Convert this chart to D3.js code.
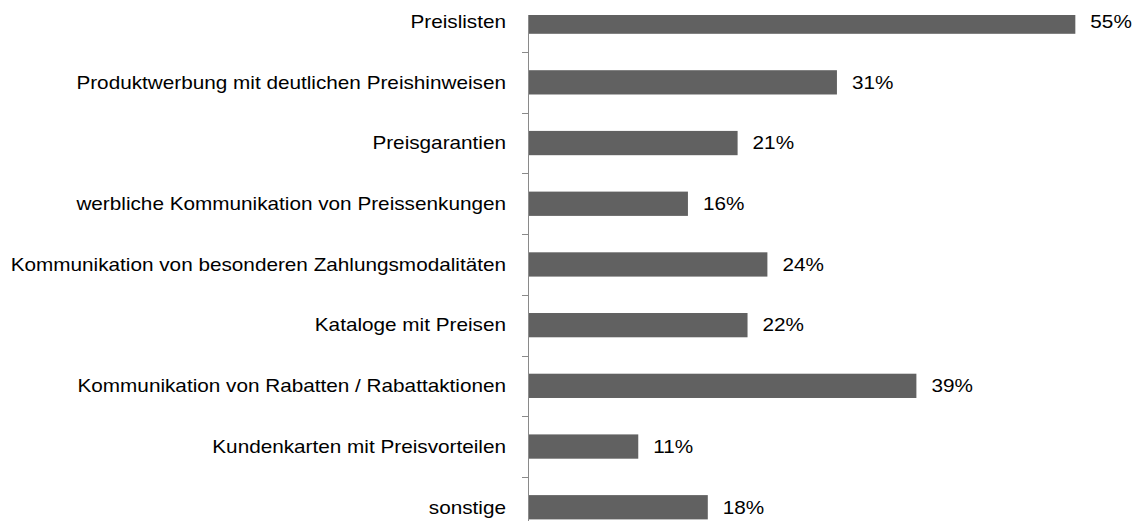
<!DOCTYPE html>
<html>
<head>
<meta charset="utf-8">
<script src="https://cdn.jsdelivr.net/npm/d3@7"></script>
<style>
  body { margin: 0; background: #fff; }
  text { font-family: "Liberation Sans", Arial, sans-serif; }
</style>
</head>
<body>
<div id="chart"></div>
<script>
// Chart data
const categories = [
  "Preislisten",
  "Produktwerbung mit deutlichen Preishinweisen",
  "Preisgarantien",
  "werbliche Kommunikation von Preissenkungen",
  "Kommunikation von besonderen Zahlungsmodalitäten",
  "Kataloge mit Preisen",
  "Kommunikation von Rabatten / Rabattaktionen",
  "Kundenkarten mit Preisvorteilen",
  "sonstige"
];
const values = [55, 31, 21, 16, 24, 22, 39, 11, 18];

const width = 1138;
const height = 521;
const axisX = 529;
const plotTop = 15;
// the source text is drawn wider than normal
const stretch = 1.185;
const fontSize = 17.5;

const svg = d3.select("#chart")
  .append("svg")
  .attr("width", width)
  .attr("height", height);

// X-Scale (percent)
const xScale = d3.scaleLinear()
  .domain([0, 60])
  .range([axisX, axisX + 596]);

// Y-Scale, the plot runs past the picture edges
const yScale = d3.scaleBand()
  .domain(categories)
  .range([-8.7, 537.6])
  .paddingInner(0.6)
  .paddingOuter(0.3);

const step = yScale.step();

svg.append("clipPath")
  .attr("id", "plot")
  .append("rect")
  .attr("x", 0)
  .attr("y", plotTop)
  .attr("width", width)
  .attr("height", height - plotTop);

// Draw bars
svg.append("g")
  .attr("clip-path", "url(#plot)")
  .selectAll("rect")
  .data(values)
  .enter()
  .append("rect")
  .attr("x", xScale(0))
  .attr("y", (d, i) => yScale(categories[i]))
  .attr("width", d => xScale(d) - xScale(0))
  .attr("height", yScale.bandwidth())
  .attr("fill", "#616161");

// Axis line
svg.append("line")
  .attr("x1", axisX - 0.5).attr("x2", axisX - 0.5)
  .attr("y1", plotTop).attr("y2", height)
  .attr("stroke", "#8a8a8a")
  .attr("stroke-width", 1);

// Tick marks between categories
const tickYs = categories.slice(1).map(c => yScale(c) - (step - yScale.bandwidth()) / 2);
svg.append("g")
  .selectAll("line")
  .data(tickYs)
  .enter()
  .append("line")
  .attr("x1", axisX - 7).attr("x2", axisX)
  .attr("y1", d => Math.round(d) + 0.5)
  .attr("y2", d => Math.round(d) + 0.5)
  .attr("stroke", "#8a8a8a");

// Category labels
svg.append("g")
  .selectAll("text")
  .data(categories)
  .enter()
  .append("text")
  .attr("transform", d =>
    "translate(" + (axisX - 23) + "," + (yScale(d) + yScale.bandwidth() / 2) +
    ") scale(" + stretch + ",1)")
  .attr("dy", "0.36em")
  .attr("text-anchor", "end")
  .attr("font-size", fontSize)
  .attr("fill", "#000")
  .text(d => d);

// Value labels
const format = d => d + "%";
svg.append("g")
  .selectAll("text")
  .data(values)
  .enter()
  .append("text")
  .attr("transform", (d, i) =>
    "translate(" + (xScale(d) + 15) + "," +
    (yScale(categories[i]) + yScale.bandwidth() / 2) +
    ") scale(" + stretch + ",1)")
  .attr("dy", "0.36em")
  .attr("font-size", fontSize)
  .attr("fill", "#000")
  .text(format);
</script>
</body>
</html>
